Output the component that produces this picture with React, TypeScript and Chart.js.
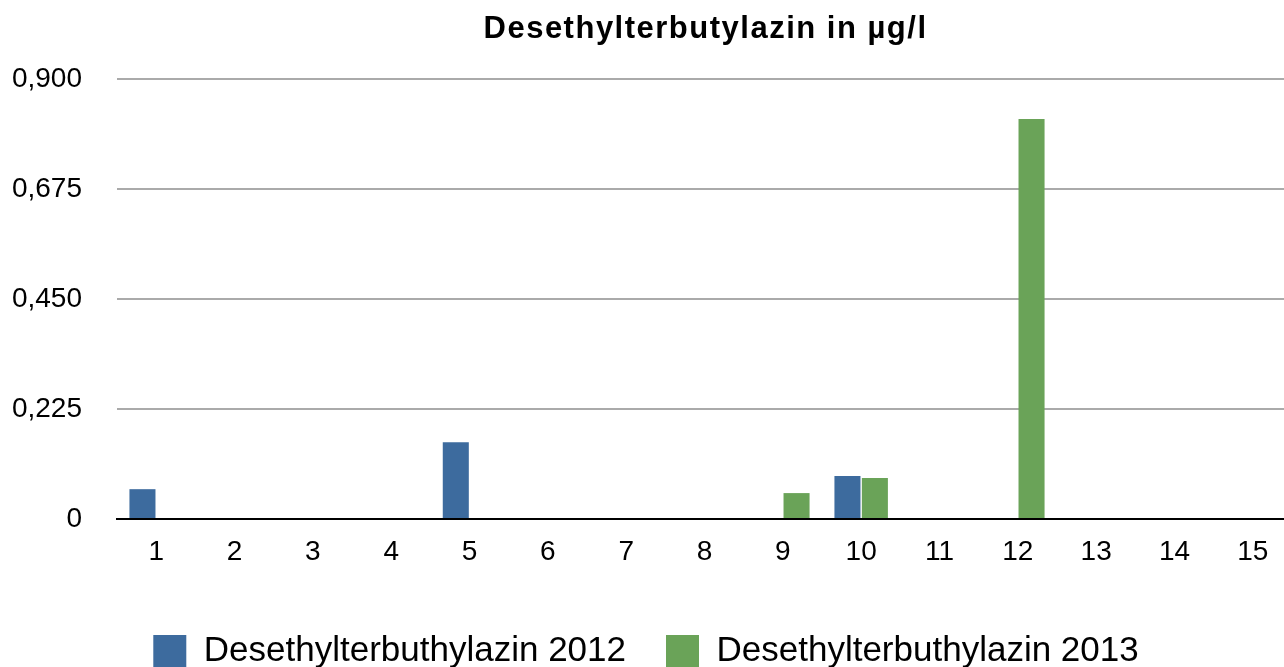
import React, { useEffect, useRef } from "react";
import { Chart, registerables } from "chart.js";

Chart.register(...registerables);

const chartTitle = "Desethylterbutylazin in µg/l";
const categories = ["1", "2", "3", "4", "5", "6", "7", "8", "9", "10", "11", "12", "13", "14", "15"];
const seriesNames = ["Desethylterbuthylazin 2012", "Desethylterbuthylazin 2013"];
const values2012 = [0.061, null, null, null, 0.157, null, null, null, null, 0.088, null, null, null, null, null];
const values2013 = [null, null, null, null, null, null, null, null, 0.053, 0.084, null, 0.818, null, null, null];
const yTicks = [0, 0.225, 0.45, 0.675, 0.9];
const yTickLabels = ["0", "0,225", "0,450", "0,675", "0,900"];
const seriesColors = ["#3D6B9E", "#6AA358"];

const FONT = "'Liberation Sans', Arial, Helvetica, sans-serif";

const titlePlugin = {
  id: "centeredTitle",
  afterDraw(chart: any) {
    const { ctx, chartArea } = chart;
    ctx.save();
    ctx.font = `bold 31px ${FONT}`;
    try {
      (ctx as any).letterSpacing = "1.5px";
    } catch (e) {}
    ctx.fillStyle = "#000";
    ctx.textAlign = "center";
    ctx.textBaseline = "alphabetic";
    ctx.fillText(chartTitle, (chartArea.left + chartArea.right) / 2 + 1, 38);
    ctx.restore();
  },
};

export default function App() {
  const canvasRef = useRef<HTMLCanvasElement | null>(null);

  useEffect(() => {
    if (!canvasRef.current) return;
    const chart = new Chart(canvasRef.current, {
      type: "bar",
      data: {
        labels: categories,
        datasets: [
          {
            label: seriesNames[0],
            data: values2012,
            backgroundColor: seriesColors[0],
            borderWidth: 0,
            categoryPercentage: 0.7,
            barPercentage: 0.95,
          },
          {
            label: seriesNames[1],
            data: values2013,
            backgroundColor: seriesColors[1],
            borderWidth: 0,
            categoryPercentage: 0.7,
            barPercentage: 0.95,
          },
        ],
      },
      options: {
        responsive: false,
        animation: false,
        devicePixelRatio: 1,
        layout: { padding: { top: 79, left: 0, right: 0, bottom: 0 } },
        plugins: {
          title: { display: false },
          tooltip: { enabled: false },
          legend: {
            display: true,
            position: "bottom",
            labels: {
              boxWidth: 33,
              boxHeight: 33,
              padding: 40,
              color: "#000",
              font: { size: 35, family: FONT },
            },
          },
        },
        scales: {
          x: {
            grid: { display: false, drawTicks: false },
            border: { display: true, color: "#000", width: 2 },
            ticks: {
              color: "#000",
              padding: 16,
              font: { size: 28, family: FONT },
              maxRotation: 0,
              autoSkip: false,
            },
            afterFit(scale: any) {
              scale.height = 75;
            },
          },
          y: {
            min: 0,
            max: 0.9,
            afterBuildTicks(scale: any) {
              scale.ticks = yTicks.map((v) => ({ value: v }));
            },
            grid: {
              drawTicks: false,
              lineWidth: 2,
              color: (ctx: any) => (ctx.tick && ctx.tick.value === 0 ? "rgba(0,0,0,0)" : "#AAAAAA"),
            },
            border: { display: false },
            ticks: {
              color: "#000",
              padding: 35,
              font: { size: 28, family: FONT },
              callback: (value: any) => {
                const i = yTicks.findIndex((t) => Math.abs(t - Number(value)) < 1e-9);
                return i >= 0 ? yTickLabels[i] : "";
              },
            },
            afterFit(scale: any) {
              scale.width = 117;
            },
          },
        },
      },
      plugins: [titlePlugin],
    });
    return () => chart.destroy();
  }, []);

  return (
    <div
      style={{
        position: "fixed",
        left: 0,
        top: 0,
        width: 1284,
        height: 667,
        overflow: "hidden",
        background: "#fff",
      }}
    >
      <canvas ref={canvasRef} width={1292} height={679} style={{ display: "block" }} />
    </div>
  );
}
